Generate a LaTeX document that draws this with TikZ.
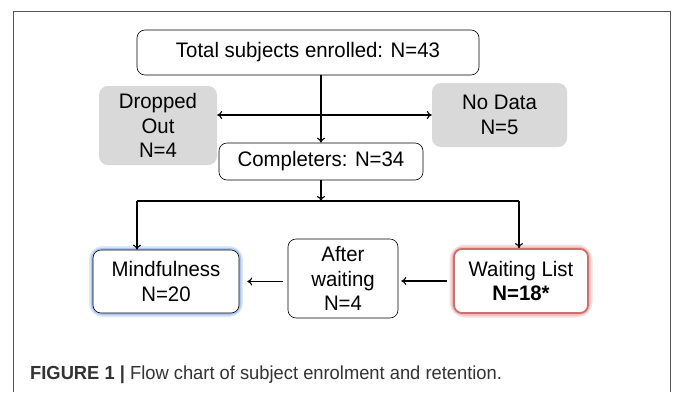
\documentclass[tikz,border=0pt]{standalone}
\usepackage{fontspec}
\setmainfont[FakeStretch=0.97]{Liberation Sans}
\usetikzlibrary{arrows.meta,calc}
\definecolor{grayfill}{HTML}{D9D9D9}
\definecolor{framegray}{HTML}{555555}
\definecolor{capgray}{HTML}{333333}
\definecolor{glowblue}{HTML}{8DB4E8}
\definecolor{glowred}{HTML}{E8A4A4}
\definecolor{redborder}{HTML}{CC6F6F}
\begin{document}
\begin{tikzpicture}[x=1pt,y=-1pt,
  boxtext/.style={font=\fontsize{21}{24.5}\selectfont, align=center, text=black, inner sep=0pt},
  whitebox/.style={boxtext, draw=black, line width=0.6pt, fill=white, rounded corners=8pt},
  graybox/.style={boxtext, fill=grayfill, rounded corners=9pt},
  conn/.style={draw=black, line width=1.1pt, -{To[length=5pt,width=8pt]}},
  conn2/.style={draw=black, line width=1.1pt, {To[length=5pt,width=8pt]}-{To[length=5pt,width=8pt]}}
]
\useasboundingbox (0,0) rectangle (673,392);
\fill[white] (0,0) rectangle (673,392);
% frame
\draw[framegray, line width=0.9pt] (13,392) -- (13,11.5) -- (670,11.5) -- (670,392);

% nodes
\node[whitebox, minimum width=342pt, minimum height=45pt] (total) at (308,52.5) {Total subjects enrolled: N=43};
\node[graybox, minimum width=118pt, minimum height=79pt] (drop) at (158,125.5) {Dropped\\Out\\N=4};
\node[graybox, minimum width=135pt, minimum height=64pt] (nodata) at (499.5,115) {No Data\\N=5};
\node[whitebox, minimum width=204pt, minimum height=37pt] (comp) at (321,161.5) {Completers: N=34};

% glows
\draw[glowblue, line width=8pt, opacity=0.3, rounded corners=10pt] (93,250) rectangle (239,313);
\draw[glowblue, line width=4.5pt, opacity=0.6, rounded corners=9pt] (93,250) rectangle (239,313);
\draw[glowred, line width=9pt, opacity=0.35, rounded corners=11pt] (454,249) rectangle (588,313);
\draw[glowred, line width=5pt, opacity=0.6, rounded corners=10pt] (454,249) rectangle (588,313);

\node[whitebox, minimum width=146pt, minimum height=63pt] (mind) at (166,281.5) {Mindfulness\\N=20};
\node[whitebox, minimum width=110pt, minimum height=79pt] (after) at (343,278.5) {After\\waiting\\N=4};
\node[boxtext, draw=redborder, line width=1.8pt, fill=white, rounded corners=8pt, minimum width=134pt, minimum height=64pt] (wait) at (521,281) {Waiting List\\\textbf{N=18*}};

% connectors
\coordinate (bar) at (321,201);
\coordinate (barL) at (137,201);
\coordinate (barR) at (519,201);
\draw[conn] (total.south -| comp.north) -- (comp.north);
\draw[conn2] (drop.east |- nodata.west) -- (nodata.west);
\draw[conn] (comp.south) -- (bar);
\draw[draw=black, line width=1.1pt] (barL) -- (barR);
\draw[conn] (barL) -- (barL |- mind.north);
\draw[conn] (barR) -- (barR |- wait.north);
\draw[conn, shorten <=6pt, shorten >=3pt] (wait.west) -- (wait.west -| after.east);
\draw[conn, shorten <=5pt, shorten >=8pt] (after.west |- mind.east) -- (mind.east);

% caption
\node[anchor=base west, inner sep=0pt, text=capgray, font=\fontsize{18.9}{22}\selectfont] (cap) at (30,379) {\textbf{FIGURE 1 |} Flow chart of subject enrolment and retention.};
\end{tikzpicture}
\end{document}
